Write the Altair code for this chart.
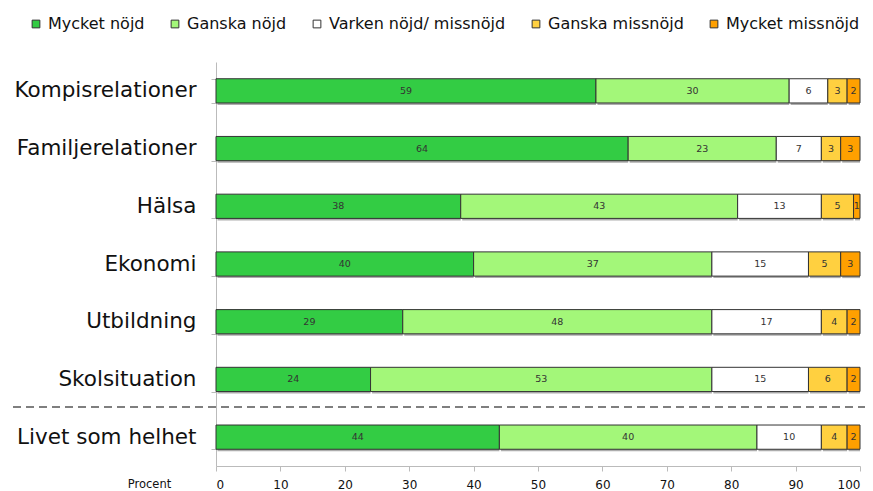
import altair as alt
import pandas as pd

categories = ["Kompisrelationer", "Familjerelationer", "Hälsa", "Ekonomi",
              "Utbildning", "Skolsituation", "Livet som helhet"]
series = ["Mycket nöjd", "Ganska nöjd", "Varken nöjd/ missnöjd",
          "Ganska missnöjd", "Mycket missnöjd"]
mycket_nojd = [59, 64, 38, 40, 29, 24, 44]
ganska_nojd = [30, 23, 43, 37, 48, 53, 40]
varken = [6, 7, 13, 15, 17, 15, 10]
ganska_missnojd = [3, 3, 5, 5, 4, 6, 4]
mycket_missnojd = [2, 3, 1, 3, 2, 2, 2]
colors = ["#33cc44", "#a3f779", "#ffffff", "#ffd040", "#ffa000"]
x_ticks = [0, 10, 20, 30, 40, 50, 60, 70, 80, 90, 100]

cols = [mycket_nojd, ganska_nojd, varken, ganska_missnojd, mycket_missnojd]
rows = []
for ci, cat in enumerate(categories):
    for si, s in enumerate(series):
        rows.append({"cat": cat, "series": s, "order": si, "value": cols[si][ci]})
df = pd.DataFrame(rows)

FONT = "DejaVu Sans"

base = alt.Chart(df).transform_stack(
    stack="value", groupby=["cat"], as_=["v0", "v1"],
    sort=[alt.SortField("order", order="ascending")]
).transform_calculate(mid="(datum.v0 + datum.v1) / 2")

yenc = alt.Y("cat:N", sort=categories,
             scale=alt.Scale(paddingInner=0.58, paddingOuter=0.29),
             axis=alt.Axis(title=None, labelFontSize=21.5, labelFont=FONT,
                           labelColor="#111", tickBand="extent",
                           domainColor="#bbbbbb", tickColor="#bbbbbb",
                           tickSize=5, labelPadding=15, labelLimit=300))

xscale = alt.Scale(domain=[0, 100], nice=False)

shadow = base.mark_bar(color="#999999", opacity=0.8, xOffset=1.5, yOffset=2).encode(
    x=alt.X("v0:Q", scale=xscale), x2="v1:Q", y=yenc)

bars = base.mark_bar(stroke="#333333", strokeWidth=1).encode(
    x=alt.X("v0:Q", scale=xscale,
            axis=alt.Axis(values=x_ticks, title="Procent", titleFontSize=11.5,
                          titleFontWeight="normal", titleFont=FONT,
                          titleX=-67, titleY=18, titleAlign="center",
                          titleBaseline="middle",
                          labelFont=FONT, labelFontSize=12, labelColor="#111",
                          titleColor="#111",
                          grid=False, domainColor="#bbbbbb", tickColor="#bbbbbb",
                          tickSize=5, labelPadding=8)),
    x2="v1:Q",
    y=yenc,
    color=alt.Color("series:N", sort=series,
                    scale=alt.Scale(domain=series, range=colors),
                    legend=alt.Legend(title=None, orient="none", direction="horizontal",
                                      legendX=-188, legendY=-46,
                                      labelFont=FONT, labelFontSize=16,
                                      labelColor="#111", labelLimit=400,
                                      symbolType="square", symbolSize=60,
                                      symbolStrokeColor="#333333",
                                      symbolStrokeWidth=1, symbolOpacity=1,
                                      labelOffset=4, columnPadding=22)),
    order=alt.Order("order:Q"),
)

labels = base.mark_text(fontSize=9.5, font=FONT, color="#333333").encode(
    x=alt.X("mid:Q", scale=xscale), y=yenc, text="value:Q")

sep_df = pd.DataFrame({"sep": ["Livet som helhet"]})
sep = alt.Chart(sep_df).mark_rule(strokeDash=[8, 5], color="#555555", strokeWidth=1.3).encode(
    x=alt.value(-216), x2=alt.value(660), y=alt.value(345))

chart = alt.layer(shadow, bars, labels, sep).properties(
    width=644, height=404,
    padding={"left": 208, "top": 54, "right": 5, "bottom": 25},
    autosize=alt.AutoSizeParams(type="none"),
).configure_view(stroke=None)

chart.save("out.html", embed_options={"renderer": "svg", "actions": False})
